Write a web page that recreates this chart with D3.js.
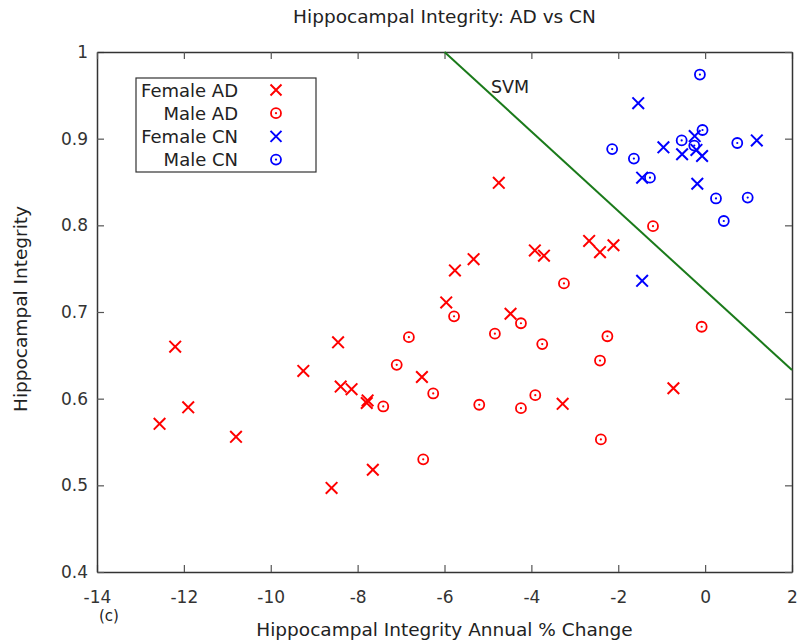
<!DOCTYPE html>
<html>
<head>
<meta charset="utf-8">
<script src="https://cdn.jsdelivr.net/npm/d3@7"></script>
<style>
  body { margin: 0; background: #fff; }
  text { font-family: "DejaVu Sans", sans-serif; fill: #222; }
</style>
</head>
<body>
<div id="chart"></div>
<script>
// data: [annual % change, integrity]
var femaleAD = [[-12.56, 0.571], [-12.2, 0.66], [-11.9, 0.59], [-10.8, 0.556], [-9.25, 0.632],
  [-8.6, 0.497], [-8.45, 0.665], [-8.39, 0.614], [-8.14, 0.611], [-7.79, 0.595], [-7.77, 0.598],
  [-7.65, 0.518], [-6.52, 0.625], [-5.96, 0.711], [-5.76, 0.748], [-5.33, 0.761], [-4.75, 0.849],
  [-4.48, 0.698], [-3.92, 0.771], [-3.71, 0.765], [-3.28, 0.594], [-2.67, 0.782], [-2.42, 0.769],
  [-2.11, 0.777], [-0.73, 0.612]];
var maleAD = [[-7.41, 0.591], [-7.1, 0.639], [-6.82, 0.671], [-6.49, 0.530], [-6.26, 0.606],
  [-5.78, 0.695], [-5.2, 0.593], [-4.84, 0.675], [-4.24, 0.687], [-4.24, 0.589], [-3.91, 0.604],
  [-3.75, 0.663], [-3.25, 0.733], [-2.4, 0.553], [-2.42, 0.644], [-2.25, 0.672], [-1.2, 0.799],
  [-0.08, 0.683]];
var femaleCN = [[-1.54, 0.941], [-0.96, 0.890], [-0.53, 0.882], [-0.24, 0.903], [-0.2, 0.887],
  [-0.07, 0.880], [-0.18, 0.848], [-1.45, 0.855], [1.19, 0.898], [-1.45, 0.736]];
var maleCN = [[-0.12, 0.974], [-2.14, 0.888], [-1.64, 0.877], [-1.27, 0.855], [-0.54, 0.898],
  [-0.25, 0.892], [-0.06, 0.910], [0.74, 0.895], [0.25, 0.831], [0.98, 0.832], [0.43, 0.805]];
var svmLine = [[-6, 1], [2, 0.633]];
var xTicks = [-14, -12, -10, -8, -6, -4, -2, 0, 2];
var yTicks = [0.4, 0.5, 0.6, 0.7, 0.8, 0.9, 1];

var margin = {top: 52, right: 8, bottom: 71, left: 97},
    width = 800 - margin.left - margin.right,
    height = 643 - margin.top - margin.bottom;

var svg = d3.select("#chart")
  .append("svg")
    .attr("width", 800)
    .attr("height", 643)
  .append("g")
    .attr("transform", "translate(" + margin.left + "," + margin.top + ")");

var x = d3.scaleLinear().domain([-14, 2]).range([0, width]);
var y = d3.scaleLinear().domain([0.4, 1]).range([height, 0]);

// plain hyphen for negatives, like the original
var plain = function(d) { return String(d); };

// axes, matlab style: ticks inside on all four sides
function styleAxis(g) {
  g.select(".domain").attr("stroke", "#333").attr("stroke-width", 1.5);
  g.selectAll(".tick line").attr("stroke", "#555").attr("stroke-width", 1.2);
  g.selectAll(".tick text").style("font-size", "17px").style("fill", "#333");
}
svg.append("g")
    .attr("transform", "translate(0," + height + ")")
    .call(d3.axisBottom(x).tickValues(xTicks).tickFormat(plain).tickSizeInner(-7).tickSizeOuter(0).tickPadding(19))
    .call(styleAxis);
svg.append("g")
    .call(d3.axisLeft(y).tickValues(yTicks).tickFormat(plain).tickSizeInner(-7).tickSizeOuter(0).tickPadding(9))
    .call(styleAxis);
svg.append("g")
    .call(d3.axisTop(x).tickValues(xTicks).tickSizeInner(-7).tickSizeOuter(0).tickFormat(""))
    .call(styleAxis);
svg.append("g")
    .attr("transform", "translate(" + width + ",0)")
    .call(d3.axisRight(y).tickValues(yTicks).tickSizeInner(-7).tickSizeOuter(0).tickFormat(""))
    .call(styleAxis);

// SVM boundary
svg.append("path")
    .datum(svmLine)
    .attr("fill", "none")
    .attr("stroke", "#1a7a1a")
    .attr("stroke-width", 2)
    .attr("d", d3.line().x(function(d) { return x(d[0]); }).y(function(d) { return y(d[1]); }));
svg.append("text")
    .attr("x", x(-4.93))
    .attr("y", y(0.953))
    .style("font-size", "17.5px")
    .text("SVM");

function drawCross(sel, data, color) {
  var s = 5.8;
  sel.selectAll(null)
    .data(data)
    .enter()
    .append("path")
      .attr("d", function(d) {
        var cx = x(d[0]), cy = y(d[1]);
        return "M" + (cx - s) + "," + (cy - s) + "L" + (cx + s) + "," + (cy + s) +
               "M" + (cx - s) + "," + (cy + s) + "L" + (cx + s) + "," + (cy - s);
      })
      .attr("stroke", color)
      .attr("stroke-width", 2);
}
function drawCircle(sel, data, color) {
  var g = sel.selectAll(null).data(data).enter().append("g")
      .attr("transform", function(d) { return "translate(" + x(d[0]) + "," + y(d[1]) + ")"; });
  g.append("circle").attr("r", 5).attr("fill", "none").attr("stroke", color).attr("stroke-width", 1.8);
  g.append("circle").attr("r", 1.1).attr("fill", color);
}

var pts = svg.append("g");
drawCross(pts, femaleAD, "#ff0000");
drawCircle(pts, maleAD, "#ff0000");
drawCross(pts, femaleCN, "#0000ff");
drawCircle(pts, maleCN, "#0000ff");

// legend
var legendItems = [["Female AD", "#ff0000", "x"], ["Male AD", "#ff0000", "o"],
                   ["Female CN", "#0000ff", "x"], ["Male CN", "#0000ff", "o"]];
var leg = svg.append("g").attr("transform", "translate(39,26)");
leg.append("rect")
    .attr("width", 180).attr("height", 94)
    .attr("fill", "#fff").attr("stroke", "#333").attr("stroke-width", 1.2);
legendItems.forEach(function(it, i) {
  var ly = 12 + i * 23.2;
  leg.append("text")
      .attr("x", 102).attr("y", ly + 6.5)
      .attr("text-anchor", "end")
      .style("font-size", "18px")
      .text(it[0]);
  var m = leg.append("g").attr("transform", "translate(140," + ly + ")");
  if (it[2] === "x") {
    m.append("path").attr("d", "M-5.5,-5.5L5.5,5.5M-5.5,5.5L5.5,-5.5")
      .attr("stroke", it[1]).attr("stroke-width", 2);
  } else {
    m.append("circle").attr("r", 5).attr("fill", "none").attr("stroke", it[1]).attr("stroke-width", 1.8);
    m.append("circle").attr("r", 1.1).attr("fill", it[1]);
  }
});

// titles
svg.append("text")
    .attr("x", width / 2)
    .attr("y", -29)
    .attr("text-anchor", "middle")
    .style("font-size", "18.5px")
    .text("Hippocampal Integrity: AD vs CN");
svg.append("text")
    .attr("x", width / 2)
    .attr("y", height + 64)
    .attr("text-anchor", "middle")
    .style("font-size", "18.5px")
    .text("Hippocampal Integrity Annual % Change");
svg.append("text")
    .attr("transform", "rotate(-90)")
    .attr("x", -height / 2 + 3)
    .attr("y", -70)
    .attr("text-anchor", "middle")
    .style("font-size", "18.5px")
    .text("Hippocampal Integrity");
svg.append("text")
    .attr("x", 2)
    .attr("y", height + 49)
    .style("font-size", "15px")
    .text("(c)");
</script>
</body>
</html>
